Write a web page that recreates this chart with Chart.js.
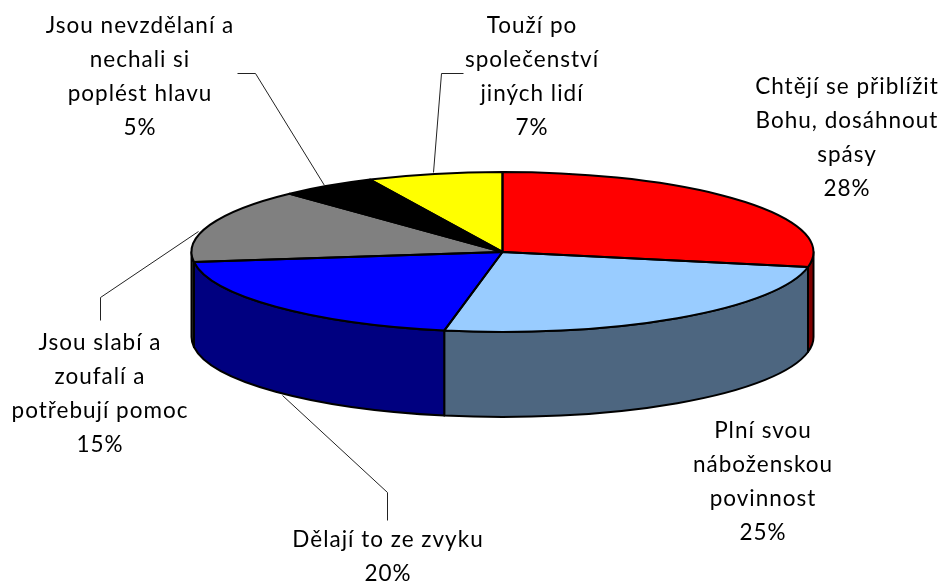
<!DOCTYPE html>
<html><head><meta charset="utf-8">
<script src="https://cdn.jsdelivr.net/npm/chart.js@4"></script>
<style>html,body{margin:0;padding:0;background:#fff}canvas{display:block}</style>
</head><body><canvas id="c" width="943" height="585"></canvas>
<script>
const categories = [
  ['Chtějí se přiblížit','Bohu, dosáhnout','spásy'],
  ['Plní svou','náboženskou','povinnost'],
  ['Dělají to ze zvyku'],
  ['Jsou slabí a','zoufalí a','potřebují pomoc'],
  ['Jsou nevzdělaní a','nechali si','poplést hlavu'],
  ['Touží po','společenství','jiných lidí']
];
const values = [28,25,20,15,5,7];
const topColors = ['#ff0000','#99ccff','#0000ff','#808080','#000000','#ffff00'];
const sideColors = ['#800000','#4d6680','#000080','#404040','#000000','#808000'];

// layout of the 3D view
const view = {cx:502.5, cy:252, rx:311, ry:80, depth:85};
const labelPos = [[847,87],[763,431],[388,540],[100,343],[140,26],[532,26]];
const lineGap = 34;
const leaders = [
  [[324,185],[255,73],[237,73]],
  [[433,172],[441,73],[463,73]],
  [[198,231],[100,297],[100,320]],
  [[282,395],[387,492],[387,520]]
];

const pie3d = {
  id:'pie3d',
  beforeDatasetsDraw(chart){
    const ctx = chart.ctx, arcs = chart.getDatasetMeta(0).data;
    const {cx,cy,rx,ry,depth} = view;
    ctx.save();
    ctx.lineWidth = 2; ctx.strokeStyle = '#000'; ctx.lineJoin='round';
    arcs.forEach((a,i)=>{
      const s = Math.max(a.startAngle,0), e = Math.min(a.endAngle,Math.PI);
      if(e<=s) return;
      ctx.beginPath();
      ctx.ellipse(cx,cy,rx,ry,0,s,e,false);
      ctx.ellipse(cx,cy+depth,rx,ry,0,e,s,true);
      ctx.closePath();
      ctx.fillStyle = sideColors[i];
      ctx.fill(); ctx.stroke();
    });
    ctx.restore();
    const a0 = arcs[0];
    ctx.save();
    ctx.translate(cx,cy);
    ctx.scale(rx/a0.outerRadius, ry/a0.outerRadius);
    ctx.translate(-a0.x,-a0.y);
  },
  afterDatasetsDraw(chart){
    const ctx = chart.ctx, arcs = chart.getDatasetMeta(0).data;
    const {cx,cy,rx,ry} = view;
    ctx.restore();
    ctx.save();
    ctx.lineWidth = 2; ctx.strokeStyle = '#000'; ctx.lineJoin='round';
    arcs.forEach(a=>{
      ctx.beginPath();
      ctx.moveTo(cx,cy);
      ctx.ellipse(cx,cy,rx,ry,0,a.startAngle,a.endAngle,false);
      ctx.closePath();
      ctx.stroke();
    });
    ctx.lineWidth = 1; ctx.strokeStyle = '#222';
    leaders.forEach(l=>{
      ctx.beginPath();
      l.forEach((p,k)=> k?ctx.lineTo(p[0]+.5,p[1]+.5):ctx.moveTo(p[0]+.5,p[1]+.5));
      ctx.stroke();
    });
    ctx.fillStyle='#000';
    ctx.font='22.5px Lato';
    ctx.letterSpacing='1px';
    ctx.textAlign='center'; ctx.textBaseline='middle';
    categories.forEach((lines,i)=>{
      lines.concat(values[i]+'%').forEach((t,k)=>ctx.fillText(t,labelPos[i][0],labelPos[i][1]+k*lineGap));
    });
    ctx.restore();
  }
};

new Chart(document.getElementById('c'),{
  type:'pie',
  data:{labels:categories.map(l=>l.join(' ')),datasets:[{data:values,backgroundColor:topColors,borderWidth:0,clip:false}]},
  options:{responsive:false,animation:false,layout:{padding:0},
    plugins:{legend:{display:false},tooltip:{enabled:false},title:{display:false}}},
  plugins:[pie3d]
});
</script></body></html>
